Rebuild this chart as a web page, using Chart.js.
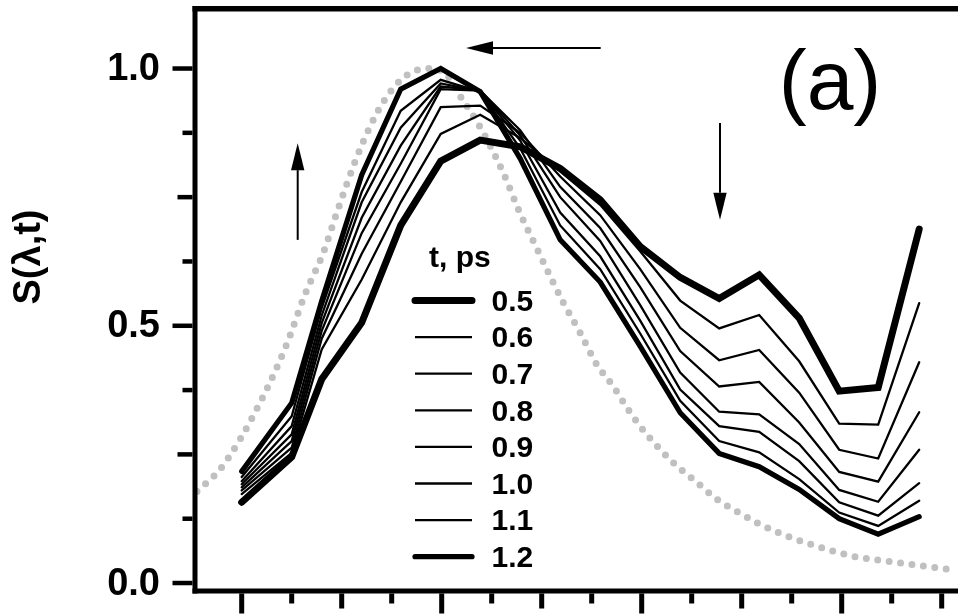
<!DOCTYPE html>
<html><head><meta charset="utf-8">
<script src="https://cdn.jsdelivr.net/npm/chart.js@4.4.1/dist/chart.umd.min.js"></script>
<style>html,body{margin:0;padding:0;background:#fff;overflow:hidden}canvas{display:block}</style>
</head><body>
<canvas id="c" width="958" height="614"></canvas>
<script>
// ---- data (x in axis tick units, y = S(lambda,t)) ----
const xPos = [0, 1.0, 1.6, 2.4, 3.18, 3.98, 4.77, 5.57, 6.37, 7.17, 7.97, 8.77, 9.55, 10.35, 11.15, 11.95, 12.73, 13.55];
const tLabels = ['0.5','0.6','0.7','0.8','0.9','1.0','1.1','1.2'];
const s05 = [0.157, 0.245, 0.396, 0.506, 0.695, 0.820, 0.861, 0.848, 0.806, 0.745, 0.654, 0.594, 0.553, 0.599, 0.515, 0.373, 0.380, 0.688];
const s06 = [0.173, 0.253, 0.454, 0.590, 0.740, 0.873, 0.910, 0.865, 0.800, 0.735, 0.645, 0.549, 0.495, 0.521, 0.431, 0.310, 0.308, 0.544];
const s07 = [0.180, 0.263, 0.475, 0.640, 0.780, 0.925, 0.928, 0.875, 0.790, 0.715, 0.610, 0.496, 0.433, 0.453, 0.370, 0.259, 0.242, 0.429];
const s08 = [0.186, 0.276, 0.490, 0.680, 0.815, 0.960, 0.957, 0.880, 0.770, 0.690, 0.575, 0.451, 0.382, 0.391, 0.312, 0.216, 0.197, 0.332];
const s09 = [0.192, 0.289, 0.505, 0.710, 0.850, 0.965, 0.958, 0.870, 0.750, 0.665, 0.540, 0.409, 0.333, 0.328, 0.270, 0.181, 0.158, 0.259];
const s10 = [0.198, 0.305, 0.520, 0.740, 0.885, 0.971, 0.956, 0.860, 0.720, 0.635, 0.510, 0.376, 0.305, 0.294, 0.237, 0.157, 0.131, 0.194];
const s11 = [0.206, 0.324, 0.535, 0.760, 0.918, 0.978, 0.955, 0.845, 0.695, 0.610, 0.485, 0.354, 0.276, 0.254, 0.202, 0.137, 0.111, 0.160];
const s12 = [0.217, 0.350, 0.548, 0.793, 0.960, 1.000, 0.955, 0.825, 0.667, 0.585, 0.460, 0.331, 0.252, 0.226, 0.182, 0.125, 0.095, 0.129];
// dotted reference spectrum
const refX = [-0.894, -0.434, -0.034, 0.30, 0.566, 0.90, 1.266, 1.632, 1.90, 2.232, 2.566, 2.90, 3.30, 3.70, 4.026, 4.40, 4.80, 5.232, 5.566, 5.90, 6.20, 6.432, 6.766, 7.10, 7.426, 7.766, 8.10, 8.666, 9.10, 9.50, 9.926, 10.366, 10.966, 11.626, 12.226, 13.026, 14.126];
const refY = [0.178, 0.221, 0.279, 0.338, 0.390, 0.464, 0.561, 0.642, 0.719, 0.810, 0.887, 0.945, 0.987, 1.000, 0.994, 0.942, 0.881, 0.797, 0.719, 0.651, 0.590, 0.545, 0.487, 0.425, 0.383, 0.332, 0.289, 0.231, 0.196, 0.163, 0.138, 0.114, 0.089, 0.068, 0.052, 0.041, 0.027];
// ticks
const xTickValues = [0,1,2,3,4,5,6,7,8,9,10,11,12,13,14];
const yTickValues = [0,0.125,0.25,0.375,0.5,0.625,0.75,0.875,1.0];
const yLabelValues = [0, 0.5, 1.0];
const yLabelTexts = ['0.0', '0.5', '1.0'];
// arrows (data units): [x1,y1] -> [x2,y2] (head at end)
const arrowFrom = [[7.18, 1.040], [1.12, 0.667], [9.566, 0.894]];
const arrowTo   = [[4.486, 1.040], [1.12, 0.855], [9.566, 0.706]];

// ---- styles ----
const FONT = "'Liberation Sans', Arial, Helvetica, sans-serif";
const seriesData = [s05, s06, s07, s08, s09, s10, s11, s12];
const widths = [7, 2.3, 2.3, 2.3, 2.3, 2.3, 2.3, 5.2];

const datasets = seriesData.map((arr, i) => ({
  label: tLabels[i],
  data: arr.map((y, j) => ({x: xPos[j], y})),
  borderColor: '#000', borderWidth: widths[i], pointRadius: 0, tension: 0,
  borderCapStyle: 'round', borderJoinStyle: 'miter', fill: false
}));
datasets.push({
  label: 'ref',
  data: refX.map((x, j) => ({x, y: refY[j]})),
  borderColor: '#c0c0c0', borderWidth: 7, borderDash: [0, 11.5], borderCapStyle: 'round',
  pointRadius: 0, cubicInterpolationMode: 'monotone', fill: false
});

const decor = {
  id: 'decor',
  afterDraw(chart) {
    const ctx = chart.ctx, xs = chart.scales.x, ys = chart.scales.y, ca = chart.chartArea;
    ctx.save();
    ctx.fillStyle = '#000';
    // frame
    ctx.fillRect(ca.left - 2.5, ca.top - 3, 5, ca.bottom - ca.top + 5.5);
    ctx.fillRect(ca.left - 2.5, ca.bottom - 2.5, ca.right - ca.left + 2.5, 5);
    ctx.fillRect(ca.left - 2.5, ca.top - 3, ca.right - ca.left + 2.5, 5.5);
    // x ticks
    xTickValues.forEach((v, i) => {
      const px = xs.getPixelForValue(v);
      const len = i % 4 === 0 ? 20 : (i % 2 === 0 ? 15 : 10);
      ctx.fillRect(px - 2.5, ca.bottom + 2.5, 5, len);
    });
    // y ticks
    yTickValues.forEach((v, i) => {
      const py = ys.getPixelForValue(v);
      const len = i % 4 === 0 ? 20 : (i % 2 === 0 ? 15 : 10);
      ctx.fillRect(ca.left - 2.5 - len, py - 2.25, len, 4.5);
    });
    // y tick labels
    ctx.font = 'bold 38px ' + FONT;
    ctx.textAlign = 'right'; ctx.textBaseline = 'middle';
    yLabelValues.forEach((v, i) => {
      ctx.fillText(yLabelTexts[i], ca.left - 35, ys.getPixelForValue(v) + 1);
    });
    // y title
    ctx.save();
    ctx.translate(30, 257);
    ctx.rotate(-Math.PI / 2);
    ctx.font = 'bold 38px ' + FONT;
    ctx.textAlign = 'center'; ctx.textBaseline = 'middle';
    ctx.fillText('S(\u03bb,t)', 0, 0);
    ctx.restore();
    // panel label
    ctx.font = '84px ' + FONT;
    ctx.textAlign = 'center'; ctx.textBaseline = 'alphabetic';
    ctx.fillText('(a)', 830, 109);
    // arrows
    ctx.strokeStyle = '#000';
    arrowFrom.forEach((f, i) => {
      const t = arrowTo[i];
      const x1 = xs.getPixelForValue(f[0]), y1 = ys.getPixelForValue(f[1]);
      const x2 = xs.getPixelForValue(t[0]), y2 = ys.getPixelForValue(t[1]);
      const ang = Math.atan2(y2 - y1, x2 - x1);
      const hl = 27, hw = 6.7;
      const bx = x2 - hl * Math.cos(ang), by = y2 - hl * Math.sin(ang);
      ctx.lineWidth = 2; ctx.lineCap = 'butt';
      ctx.beginPath(); ctx.moveTo(x1, y1); ctx.lineTo(bx, by); ctx.stroke();
      ctx.beginPath();
      ctx.moveTo(x2, y2);
      ctx.lineTo(bx + hw * Math.sin(ang), by - hw * Math.cos(ang));
      ctx.lineTo(bx - hw * Math.sin(ang), by + hw * Math.cos(ang));
      ctx.closePath(); ctx.fill();
    });
    // legend
    ctx.font = 'bold 30px ' + FONT;
    ctx.textAlign = 'left'; ctx.textBaseline = 'alphabetic';
    ctx.fillText('t, ps', 429, 267);
    ctx.textBaseline = 'middle';
    tLabels.forEach((lab, i) => {
      const y = 300.5 + i * 36.6;
      ctx.lineWidth = widths[i];
      ctx.lineCap = i === 0 || i === tLabels.length - 1 ? 'round' : 'butt';
      ctx.beginPath(); ctx.moveTo(415, y); ctx.lineTo(472, y); ctx.stroke();
      ctx.fillText(lab, 491.5, y + 2);
    });
    ctx.restore();
  }
};

new Chart(document.getElementById('c'), {
  type: 'line',
  data: { datasets },
  options: {
    responsive: false, animation: false, devicePixelRatio: 1,
    layout: { padding: { top: 9, left: 0, right: 0, bottom: 0 } },
    plugins: { legend: { display: false }, tooltip: { enabled: false } },
    scales: {
      x: {
        type: 'linear', min: -0.934, max: 14.326,
        grid: { display: false, drawTicks: false }, border: { display: false },
        ticks: { display: false },
        afterFit(s) { s.height = 23; }
      },
      y: {
        type: 'linear', min: -0.0155, max: 1.1157,
        grid: { display: false, drawTicks: false }, border: { display: false },
        ticks: { display: false },
        afterFit(s) { s.width = 195; }
      }
    }
  },
  plugins: [decor]
});
</script>
</body></html>
